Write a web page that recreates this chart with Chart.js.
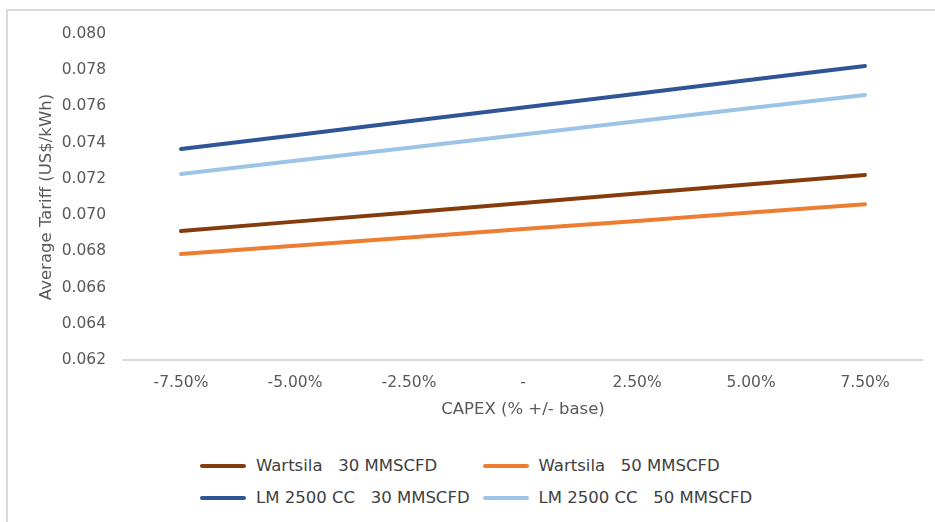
<!DOCTYPE html>
<html>
<head>
<meta charset="utf-8">
<script src="https://cdn.jsdelivr.net/npm/chart.js@4"></script>
<style>
    html, body { margin: 0; padding: 0; background: #fff; }
    body { width: 935px; height: 522px; overflow: hidden; position: relative; font-family: 'DejaVu Sans', sans-serif; }
    #frame { position: absolute; left: 6px; top: 9px; width: 1000px; height: 600px; border: 2px solid #d9d9d9; }
    #chart { position: absolute; left: 0; top: 0; }
    #legend { position: absolute; left: 200px; top: 456px; display: grid; grid-template-columns: auto auto; column-gap: 13px; row-gap: 13px; }
    .item { display: flex; align-items: center; color: #404040; font-size: 16.5px; line-height: 19px; white-space: pre; }
    .swatch { width: 46px; height: 4px; border-radius: 2px; margin-right: 10px; }
</style>
</head>
<body>
<div id="frame"></div>
<canvas id="chart" width="935" height="440"></canvas>
<div id="legend"></div>
<script>
// ============================
// Tariff sensitivity to CAPEX
// ============================

const categories = ['-7.50%', '-5.00%', '-2.50%', '-', '2.50%', '5.00%', '7.50%'];

const wartsila30 = [0.06912, 0.06964, 0.07015, 0.07067, 0.07119, 0.07170, 0.07222];
const wartsila50 = [0.06785, 0.06831, 0.06877, 0.06923, 0.06968, 0.07014, 0.07060];
const lm2500_30 = [0.07365, 0.07441, 0.07518, 0.07594, 0.07670, 0.07747, 0.07823];
const lm2500_50 = [0.07227, 0.07300, 0.07372, 0.07445, 0.07518, 0.07591, 0.07663];

const yTicks = [0.062, 0.064, 0.066, 0.068, 0.070, 0.072, 0.074, 0.076, 0.078, 0.080];

const textColor = '#595959';
const tickFont = { family: "'DejaVu Sans', sans-serif", size: 15.5 };
const titleFont = { family: "'DejaVu Sans', sans-serif", size: 16.5 };

function series(label, data, color) {
    return {
        label: label,
        data: data,
        borderColor: color,
        backgroundColor: color,
        borderWidth: 4,
        borderCapStyle: 'round',
        pointRadius: 0,
        tension: 0
    };
}

const datasets = [
    series('Wartsila   30 MMSCFD', wartsila30, '#843c0c'),
    series('Wartsila   50 MMSCFD', wartsila50, '#ed7d31'),
    series('LM 2500 CC   30 MMSCFD', lm2500_30, '#2f5597'),
    series('LM 2500 CC   50 MMSCFD', lm2500_50, '#9dc3e6')
];

const chart = new Chart(document.getElementById('chart'), {
    type: 'line',
    data: { labels: categories, datasets: datasets },
    options: {
        responsive: false,
        animation: false,
        layout: { padding: { left: 33, right: 13, top: 34, bottom: 16 } },
        scales: {
            x: {
                offset: true,
                grid: { display: false, drawTicks: false },
                border: { display: true, color: '#d9d9d9', width: 2 },
                ticks: { color: textColor, font: tickFont, padding: 14, maxRotation: 0 },
                title: { display: true, text: 'CAPEX (% +/- base)', color: textColor, font: titleFont, padding: 4 },
                afterFit: s => { s.height = 64; }
            },
            y: {
                min: 0.062,
                max: 0.080,
                grid: { display: false, drawTicks: false },
                border: { display: false },
                afterBuildTicks: s => { s.ticks = yTicks.map(v => ({ value: v })); },
                ticks: { color: textColor, font: tickFont, padding: 18, callback: v => v.toFixed(3) },
                title: { display: true, text: 'Average Tariff (US$/kWh)', color: textColor, font: titleFont, padding: 4 },
                afterFit: s => { s.width = 91; }
            }
        },
        plugins: {
            legend: { display: false },
            tooltip: { enabled: false }
        }
    }
});

// legend laid out in two columns like the original
const legend = document.getElementById('legend');
chart.data.datasets.forEach(ds => {
    const item = document.createElement('div');
    item.className = 'item';
    const sw = document.createElement('span');
    sw.className = 'swatch';
    sw.style.background = ds.borderColor;
    const txt = document.createElement('span');
    txt.textContent = ds.label;
    item.appendChild(sw);
    item.appendChild(txt);
    legend.appendChild(item);
});
</script>
</body>
</html>
